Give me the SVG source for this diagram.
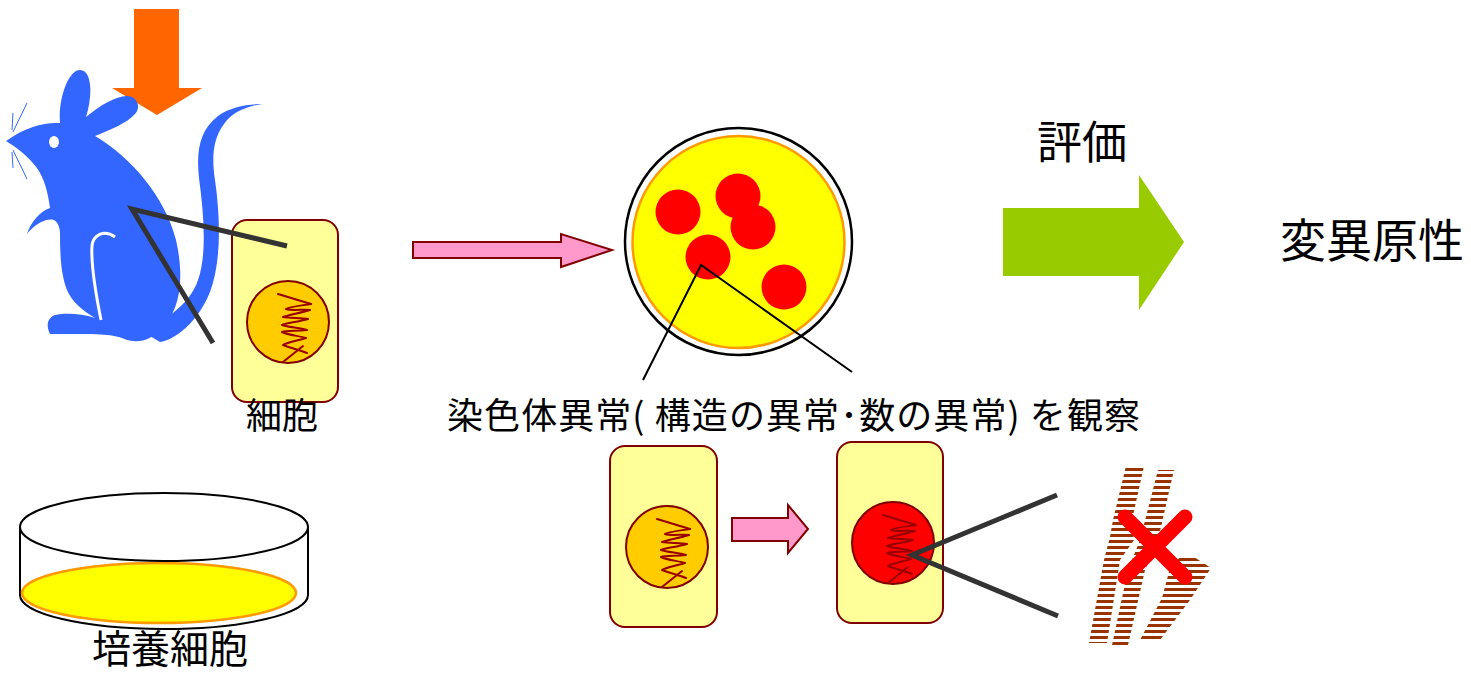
<svg xmlns="http://www.w3.org/2000/svg" width="1471" height="674" viewBox="0 0 1471 674">
  <style>
    .label { font-family: "Noto Sans CJK JP", "Noto Sans CJK SC", sans-serif; fill: #000; }
    .cell { fill: #FFFF99; stroke: #800000; stroke-width: 2; }
    .nucleus { stroke: #800000; stroke-width: 2; }
    .chrom { fill: none; stroke: #990000; stroke-width: 2; stroke-linejoin: round; stroke-linecap: round; }
    .pointer { stroke: #333333; stroke-width: 5; fill: none; }
    .thin { stroke: #000; stroke-width: 2; fill: none; }
    .pink { fill: #FF99CC; stroke: #800000; stroke-width: 2; }
    .medium { fill: #FFFF00; stroke: #FF9900; stroke-width: 2.5; }
    .colony { fill: #FF0000; }
  </style>
  <defs>
    <!-- condensed chromosome squiggle, drawn relative to the nucleus centre -->
    <g id="squiggle">
      <path class="chrom" d="M -10,-28 L 23,-18"/>
      <path class="chrom" stroke-width="2.5" d="M 23,-18 C 10,-16 0,-15 -2,-13 C 4,-11 16,-13 22,-12 C 12,-9 0,-7 -5,-5 C 2,-4 14,-4 20,-3 C 10,0 -2,1 -6,3 C 0,5 12,6 19,8 C 8,9 -2,9 -6,10 C 0,13 12,14 18,16 C 8,19 -2,21 -5,23 C 2,26 12,28 19,31"/>
      <path class="chrom" d="M 15,24 L -5,40"/>
    </g>
    <pattern id="hatch" width="8" height="6" patternUnits="userSpaceOnUse">
      <rect x="0" y="0" width="8" height="3" fill="#993300"/>
    </pattern>
  </defs>

  <!-- dosing arrow -->
  <g id="dose-arrow">
    <polygon points="134,9 179,9 179,88 202,88 157,115 112,88 134,88" fill="#FF6600"/>
  </g>

  <!-- mouse silhouette -->
  <g id="mouse">
    <!-- tail -->
    <path fill="#3366FF" d="M 140,330 C 160,325 190,305 198,280 C 207,255 204,215 199,178 C 196,150 200,130 218,116 C 230,107 248,104 262,104 C 248,106 232,112 224,124 C 212,140 212,160 215,180 C 220,215 222,260 210,292 C 198,322 175,340 160,342 Z"/>
    <!-- body, head, ears, foreleg and foot -->
    <path fill="#3366FF" d="M 6,141 C 25,127 45,122 60,123 C 58,100 68,70 80,70 C 92,70 93,95 86,117 C 100,105 118,95 128,96 C 138,97 141,108 135,114 C 127,123 110,130 95,136 C 132,158 165,197 176,240 C 185,280 180,312 160,330 C 150,340 138,345 122,338 C 110,334 100,334 50,334 C 46,326 47,318 55,315 C 65,313 80,313 95,318 C 82,310 72,302 67,290 C 61,275 60,255 60,234 C 60,228 58,222 54,220 C 46,218 35,224 27,234 C 31,222 40,211 50,208 C 48,192 44,178 37,168 C 28,156 16,147 6,141 Z"/>
    <!-- haunch outline -->
    <path d="M 101,320 C 96,295 91,262 92,246 C 93,235 104,229 115,237" fill="none" stroke="#FFFFFF" stroke-width="3"/>
    <!-- eye -->
    <ellipse cx="54" cy="142" rx="5" ry="6" fill="#FFFFFF"/>
    <!-- whiskers -->
    <g stroke="#3366FF" stroke-width="1">
      <line x1="13" y1="132" x2="27" y2="103"/>
      <line x1="12" y1="130" x2="13" y2="113"/>
      <line x1="13" y1="150" x2="27" y2="179"/>
      <line x1="12" y1="152" x2="13" y2="168"/>
    </g>
  </g>

  <!-- harvested cell -->
  <g id="cell-sample">
    <rect class="cell" x="232" y="220" width="106" height="182" rx="15"/>
    <circle class="nucleus" cx="288" cy="322" r="41" fill="#FFCC00"/>
    <use href="#squiggle" transform="translate(288,322)"/>
  </g>

  <!-- culture dish -->
  <g id="culture-dish">
    <path class="thin" d="M 20,527 L 20,595 A 144,34 0 0 0 308,595 L 308,527"/>
    <ellipse class="medium" cx="159" cy="593" rx="137" ry="30"/>
    <ellipse cx="164" cy="527" rx="144" ry="34" fill="#FFFFFF" stroke="#000" stroke-width="2"/>
  </g>

  <!-- plate with colonies -->
  <g id="plate">
    <circle cx="738.5" cy="241.5" r="113.5" fill="#FFFFFF" stroke="#000" stroke-width="2.5"/>
    <circle class="medium" cx="738.5" cy="242" r="106"/>
    <circle class="colony" cx="678" cy="212" r="22.5"/>
    <circle class="colony" cx="738" cy="196" r="22.5"/>
    <circle class="colony" cx="753" cy="227" r="22.5"/>
    <circle class="colony" cx="708" cy="257" r="22.5"/>
    <circle class="colony" cx="784" cy="287" r="22.5"/>
  </g>

  <!-- cell before treatment -->
  <g id="cell-normal">
    <rect class="cell" x="610" y="446" width="107" height="181" rx="15"/>
    <circle class="nucleus" cx="667" cy="547" r="41" fill="#FFCC00"/>
    <use href="#squiggle" transform="translate(667,547)"/>
  </g>

  <!-- cell after treatment -->
  <g id="cell-damaged">
    <rect class="cell" x="837" y="442" width="106" height="181" rx="15"/>
    <circle class="nucleus" cx="893" cy="543" r="41" fill="#FF0000"/>
    <use href="#squiggle" transform="translate(893,543)"/>
  </g>

  <!-- aberrant chromosome -->
  <g id="aberration">
    <polygon fill="url(#hatch)" points="1126,466 1144,466 1132,520 1134,540 1120,560 1107,643 1089,643 1104,560 1110,537 1113,520"/>
    <polygon fill="url(#hatch)" points="1158,470 1174,470 1158,540 1145,570 1128,645 1112,645 1128,570 1140,540"/>
    <polygon fill="url(#hatch)" points="1182,555 1194,557 1211,568 1190,600 1160,640 1140,640 1162,598 1170,568"/>
    <g stroke="#FF0000" stroke-width="15" stroke-linecap="round">
      <line x1="1125" y1="517" x2="1185" y2="577"/>
      <line x1="1185" y1="517" x2="1125" y2="577"/>
    </g>
  </g>

  <!-- connectors -->
  <g id="connectors">
    <polyline class="pointer" points="287,246 132,209 213,343"/>
    <polygon class="pink" points="413,242 561,242 561,234 612,250 561,267 561,258 413,258"/>
    <polyline class="thin" points="643,380 701,265 852,372"/>
    <polygon points="1003,208 1139,208 1139,175 1184,242 1139,310 1139,276 1003,276" fill="#99CC00"/>
    <polygon class="pink" points="732,518 788,518 788,505 808,529 788,553 788,541 732,541"/>
    <polyline class="pointer" points="1057,495 912,555 1058,616"/>
  </g>

  <!-- labels -->
  <g id="labels">
    <text class="label" x="282" y="429" font-size="36" text-anchor="middle">細胞</text>
    <text class="label" x="447" y="429" font-size="36" textLength="693" lengthAdjust="spacing">染色体異常( 構造の異常･数の異常) を観察</text>
    <text class="label" x="1037" y="159" font-size="45">評価</text>
    <text class="label" x="1280" y="257" font-size="46">変異原性</text>
    <text class="label" x="170" y="663" font-size="39" text-anchor="middle">培養細胞</text>
  </g>
</svg>
